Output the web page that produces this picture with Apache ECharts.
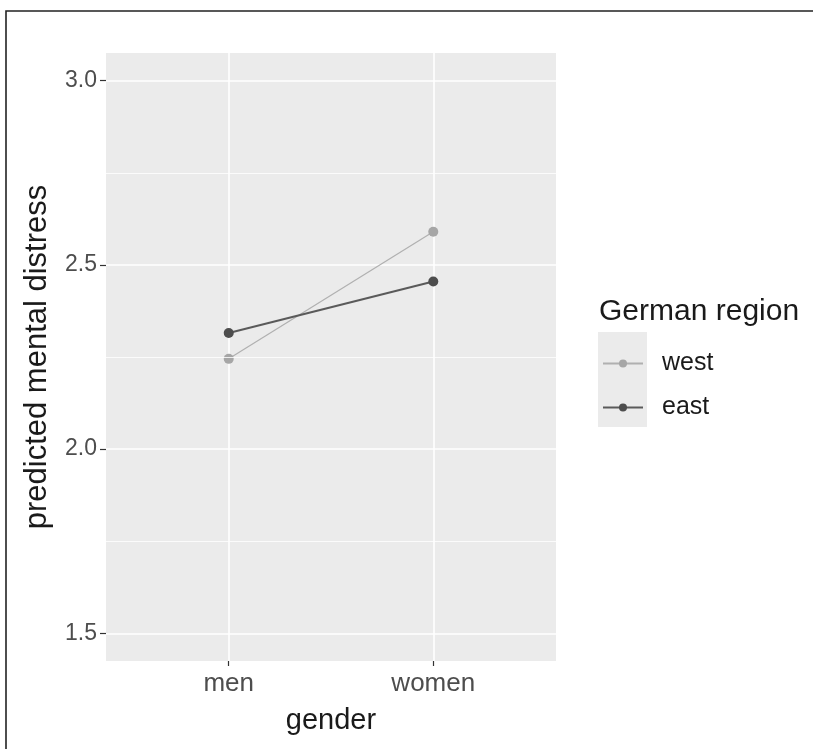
<!DOCTYPE html>
<html>
<head>
<meta charset="utf-8">
<script src="https://cdn.jsdelivr.net/npm/echarts@6/dist/echarts.min.js"></script>
<style>html,body{margin:0;padding:0;background:#fff;}#c{width:813px;height:749px;}</style>
</head>
<body>
<div id="c"></div>
<script>
const categories = ['men', 'women'];
const categoryPos = [1, 2];
const westValues = [2.245, 2.59];
const eastValues = [2.315, 2.455];
const yTicks = [1.5, 2.0, 2.5, 3.0];
const yMinorLines = [1.75, 2.25, 2.75];
const seriesNames = ['west', 'east'];

const chart = echarts.init(document.getElementById('c'));
const font = 'Liberation Sans, Arial, sans-serif';

function pairs(vals) { return vals.map((v, i) => [categoryPos[i], v]); }

chart.setOption({
  animation: false,
  backgroundColor: '#fff',
  grid: { left: 106, right: 257, top: 53, bottom: 88, show: true, backgroundColor: '#ebebeb', borderWidth: 0 },
  xAxis: {
    type: 'value', min: 0.4, max: 2.6,
    name: 'gender', nameLocation: 'middle', nameGap: 45,
    nameTextStyle: { fontFamily: font, fontSize: 29, color: '#1a1a1a' },
    axisLine: { show: false },
    axisTick: { show: true, length: 5, customValues: categoryPos, lineStyle: { color: '#333', width: 1.2 } },
    axisLabel: { customValues: categoryPos, formatter: v => categories[categoryPos.indexOf(v)] || '', fontFamily: font, fontSize: 26, color: '#4d4d4d', margin: 10 },
    splitLine: { show: true, lineStyle: { color: '#fff', width: 1.6 } }
  },
  yAxis: {
    type: 'value', min: 1.425, max: 3.075,
    name: 'predicted mental distress', nameLocation: 'middle', nameGap: 53,
    nameTextStyle: { fontFamily: font, fontSize: 31, color: '#1a1a1a' },
    axisLine: { show: false },
    axisTick: { show: true, length: 6, customValues: yTicks, lineStyle: { color: '#333', width: 1.2 } },
    axisLabel: { customValues: yTicks, formatter: v => v.toFixed(1), fontFamily: font, fontSize: 23, color: '#4d4d4d', margin: 9 },
    splitLine: { show: true, lineStyle: { color: '#fff', width: 1.6 } }
  },
  legend: {
    data: seriesNames, orient: 'vertical', left: 597, top: 346, itemGap: 19,
    itemWidth: 40, itemHeight: 10,
    textStyle: { fontFamily: font, fontSize: 25, color: '#1a1a1a', padding: [0, 0, 0, 14] }
  },
  graphic: [
    { type: 'rect', z: -10, shape: { x: 6, y: 11, width: 820, height: 760 }, style: { fill: 'none', stroke: '#222', lineWidth: 1.6 } },
    { type: 'rect', z: -5, shape: { x: 598, y: 332, width: 49, height: 95 }, style: { fill: '#ebebeb' } },
    { type: 'text', left: 599, top: 297, style: { text: 'German region', fontFamily: font, fontSize: 30, fill: '#1a1a1a' } }
  ],
  series: [
    {
      name: 'minor', type: 'line', data: [], silent: true, z: 1,
      markLine: { silent: true, symbol: 'none', label: { show: false },
        lineStyle: { color: '#fff', width: 0.8, type: 'solid' },
        data: yMinorLines.map(v => ({ yAxis: v })) }
    },
    {
      name: 'west', type: 'line', data: pairs(westValues), z: 3,
      symbol: 'circle', symbolSize: 10,
      itemStyle: { color: '#a6a6a6' },
      lineStyle: { color: '#b0b0b0', width: 1.2 }
    },
    {
      name: 'east', type: 'line', data: pairs(eastValues), z: 4,
      symbol: 'circle', symbolSize: 10,
      itemStyle: { color: '#4d4d4d' },
      lineStyle: { color: '#5a5a5a', width: 2 }
    }
  ]
});
</script>
</body>
</html>
